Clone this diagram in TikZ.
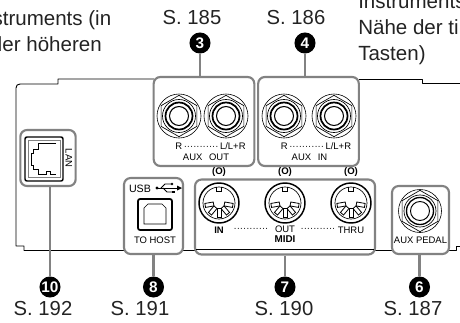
\documentclass[tikz,border=0pt]{standalone}
\usepackage{fontspec}
\setmainfont{Liberation Sans}
\usetikzlibrary{shapes.geometric}
\definecolor{pgray}{RGB}{130,130,130}
\definecolor{ptext}{RGB}{35,35,35}
\begin{document}
\begin{tikzpicture}[
    x=0.75pt, y=-0.75pt,
    panel/.style={draw=black, line width=0.7pt, line join=round},
    groupbox/.style={draw=pgray, line width=1.6pt, fill=white, rounded corners=5pt, inner sep=0pt},
    lead/.style={draw=pgray, line width=1.6pt},
    badge/.style={circle, fill=black, text=white, inner sep=0pt, minimum size=15.8pt,
        font=\fontsize{11.5}{11.5}\selectfont\bfseries},
    pageref/.style={font=\fontsize{15.2}{15.2}\selectfont, text=ptext, inner sep=0pt, anchor=base},
    bodytext/.style={font=\fontsize{15.4}{15.4}\selectfont, text=ptext, inner sep=0pt},
    tiny/.style={font=\fontsize{7.1}{7.1}\selectfont, text=black, inner sep=0pt},
    hexnut/.style={regular polygon, regular polygon sides=6, shape border rotate=90,
        draw=black, line width=0.5pt, inner sep=0pt, minimum size=31pt}
]
\useasboundingbox (0,0) rectangle (460,322);
\clip (0,0) rectangle (460,322);

% Text cut off by the crop.
\node[bodytext, anchor=base east] (lefta) at (111.5,25) {struments (in};
\node[bodytext, anchor=base east] (leftb) at (102,51) {der höheren};
\node[bodytext, anchor=base east] (leftc) at (1.5,77) {)};
\foreach \y/\t in {8/Instruments,34/Nähe der ti,60/{Tasten)}} {
    \node[bodytext, anchor=base west] (right\y) at (358,\y) {\t};
}

% Panel outline.
\draw[panel] (154,79) -- (58,79) -- (58,84) -- (20,84) .. controls (17.5,84) and (16,85.5) .. (16,88)
    -- (16,246) -- (24,246) -- (24,250.5) -- (392,250.5);
\draw[panel] (359,79) -- (422,79) -- (422,83) -- (460,83);
\draw[panel] (449,250.5) -- (456,250.5) -- (456,246) -- (460,246);

% Groups.
\node[groupbox, minimum width=75.5pt, minimum height=66.75pt] (auxout) at (204,121.5) {};
\node[groupbox, minimum width=75.5pt, minimum height=66.75pt] (auxin) at (308.5,121.5) {};
\node[groupbox, minimum width=41.5pt, minimum height=42pt] (lan) at (48,158) {};
\node[groupbox, minimum width=44.25pt, minimum height=57pt] (usb) at (153.5,216) {};
\node[groupbox, minimum width=135pt, minimum height=56.25pt] (midi) at (285,217) {};
\node[groupbox, minimum width=42.75pt, minimum height=51pt] (pedal) at (420.5,220) {};
\draw[panel, line width=0.5pt] (196,249.5) -- (374,249.5);

% Badges, page numbers, leads.
\foreach \n/\x/\y/\tx/\ty/\s/\grp/\side in {
    3/200/43/192/24/185/auxout/north,
    4/305/43/296/24/186/auxin/north,
    10/50/287/43/315/192/lan/south,
    8/153.5/287/140/315/191/usb/south,
    7/285/287/284/315/190/midi/south,
    6/419.5/287/413/315/187/pedal/south} {
    \node[badge] (badge\n) at (\x,\y) {\n};
    \node[pageref] (page\n) at (\tx,\ty) {S. \s};
    \draw[lead] (badge\n) -- (badge\n |- \grp.\side);
}

% Phone jacks.
\foreach \x in {179,226,284,334} {
    \draw[line width=0.45pt] (\x,116) circle[radius=22];
    \node[hexnut] (nut\x) at (\x,116) {};
    \draw[line width=0.5pt] (\x,116) circle[radius=16.5];
    \draw[line width=1.3pt] (\x,116) circle[radius=13.5];
    \draw[line width=0.8pt] (\x,116) circle[radius=9.5];
}
\node[tiny] (outlab) at (210.5,146) {R\,···········\,L/L+R};
\node[tiny] (inlab) at (316,146) {R\,···········\,L/L+R};
\node[tiny] (outname) at (206,157) {AUX\hspace{3pt}\ OUT};
\node[tiny] (inname) at (309.5,157) {AUX\hspace{3pt}\ IN};

% LAN.
\draw[line width=1.1pt, rounded corners=1.5pt] (25,137) rectangle (63,181);
\draw[line width=0.4pt, draw=pgray] (28,140) rectangle (60,177);
\draw[line width=0.6pt] (56,143) -- (38,143) -- (38,149) -- (33,149) -- (33,153) -- (31,153) -- (31,165)
    -- (33,165) -- (33,169) -- (38,169) -- (38,174) -- (46,174) -- (46,171) -- (50,171) -- (50,174) -- (56,174);
\node[tiny, rotate=-90] (lanlab) at (69,158) {LAN};

% USB.
\node[tiny, font=\fontsize{8}{8}\selectfont] (usblab) at (140,188.5) {USB};
\fill (157,188) circle[radius=1.6];
\draw[line width=0.6pt] (157,188) -- (178,188);
\fill (182,188) -- (177,185.5) -- (177,190.5) -- cycle;
\draw[line width=0.6pt] (161,188) -- (165,184) -- (171,184);
\fill (172,184) circle[radius=1.4];
\draw[line width=0.6pt] (163,188) -- (167,192) -- (172,192);
\fill (171.5,190.6) rectangle (174.5,193.4);
\draw[line width=1.3pt, rounded corners=1.5pt] (138,199) rectangle (172,230);
\draw[line width=0.4pt] (144,224) -- (144,208) -- (148,204) -- (162,204) -- (166,208) -- (166,224) -- cycle;
\node[tiny] (hostlab) at (155,240) {TO HOST};

% MIDI sockets.
\foreach \x/\sym in {219/(O),285/(O),351/(O)} {
    \node[tiny, font=\fontsize{7.2}{7.2}\selectfont\bfseries] (sym\x) at (\x,172) {\sym};
    \begin{scope}[shift={(\x,203)}]
        \draw[line width=1.1pt] (0,0) circle[radius=20];
        \draw[line width=0.5pt] (0,0) circle[radius=16];
        \draw[line width=0.5pt] (-2.5,-16) -- (-2.5,-12) -- (2.5,-12) -- (2.5,-16);
        \foreach \a in {-10,-50,-90,-130,-170} {
            \draw[line width=0.6pt, rotate=\a, fill=white] (5.5,-2) rectangle (14,2);
        }
    \end{scope}
}
\node[tiny] (inpin) at (219,230) {\textbf{IN}};
\node[tiny] (dotsa) at (251,230) {···········};
\node[tiny] (outpin) at (285,229.5) {OUT};
\node[tiny] (dotsb) at (318,230) {···········};
\node[tiny] (thrupin) at (351,230) {THRU};
\node[tiny, font=\fontsize{7.4}{7.4}\selectfont\bfseries] (midilab) at (285,239) {MIDI};

% Pedal.
\draw[line width=0.45pt] (420,211) circle[radius=21.5];
\node[hexnut, minimum size=31pt] (nutpedal) at (420,211) {};
\draw[line width=0.5pt] (420,211) circle[radius=16];
\draw[line width=1pt] (420,211) circle[radius=13.5];
\draw[line width=0.7pt] (420,211) circle[radius=9.5];
\node[tiny] (pedallab) at (420.5,240) {AUX\ PEDAL};

\end{tikzpicture}
\end{document}
